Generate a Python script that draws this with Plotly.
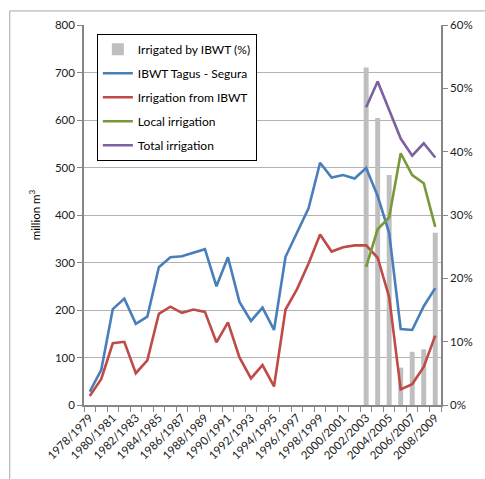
import plotly.graph_objects as go

# Hydrological years
years = [f"{y}/{y + 1}" for y in range(1978, 2009)]

# Water volumes, million m3
ibwt_tagus_segura = [28, 74, 202, 224, 171, 186, 290, 311, 313, 321, 328,
                     250, 311, 217, 177, 205, 158, 312, 364, 414, 510, 479,
                     484, 477, 499, 440, 362, 160, 158, 208, 246]
irrigation_from_ibwt = [19, 55, 130, 133, 67, 94, 192, 207, 194, 201, 196,
                        132, 174, 100, 56, 84, 39, 201, 244, 298, 359, 323,
                        332, 336, 336, 310, 227, 33, 44, 80, 146]
local_irrigation = [None] * 24 + [291, 370, 395, 530, 484, 467, 375]
total_irrigation = [None] * 24 + [627, 681, 621, 561, 525, 551, 521]

# Share of irrigation supplied by the transfer
irrigated_by_ibwt_pct = [None] * 24 + [0.533, 0.453, 0.363, 0.059, 0.084, 0.088, 0.272]

idx = list(range(len(years)))
even_idx = idx[::2]

FONT = "Lato, 'Open Sans', sans-serif"
AXIS_GREY = "#868686"
GRID_GREY = "#B3B3B3"

fig = go.Figure()

fig.add_trace(go.Bar(
    x=idx, y=irrigated_by_ibwt_pct, name="Irrigated by IBWT (%)",
    marker=dict(color="#BFBFBF", line=dict(width=0)),
    yaxis="y", legendgroup="a",
))

line_series = [
    ("IBWT Tagus - Segura", ibwt_tagus_segura, "#4A7EBB", "b"),
    ("Irrigation from IBWT", irrigation_from_ibwt, "#BE4B48", "c"),
    ("Local irrigation", local_irrigation, "#77993A", "d"),
    ("Total irrigation", total_irrigation, "#7D60A0", "e"),
]
for name, vals, color, grp in line_series:
    fig.add_trace(go.Scatter(
        x=idx, y=vals, name=name, mode="lines",
        line=dict(color=color, width=2.6),
        yaxis="y2", legendgroup=grp, connectgaps=False,
    ))

fig.update_layout(
    width=485, height=479,
    margin=dict(l=84, r=41, t=25, b=74),
    paper_bgcolor="white", plot_bgcolor="white",
    font=dict(family=FONT, size=12, color="#1a1a1a"),
    bargap=0.57,
    showlegend=True,
    legend=dict(
        x=0.036, y=0.977, xanchor="left", yanchor="top",
        bgcolor="white", bordercolor="#000000", borderwidth=1,
        font=dict(family=FONT, size=12, color="#000000"),
        traceorder="grouped", tracegroupgap=5,
    ),
    xaxis=dict(
        range=[-0.5, len(years) - 0.5],
        tickmode="array", tickvals=even_idx,
        ticktext=[years[i] for i in even_idx],
        tickangle=-45, ticks="", showgrid=False, zeroline=False,
        showline=True, linecolor=AXIS_GREY, linewidth=1.5,
        tickfont=dict(size=11.5, color="#1a1a1a"),
        minor=dict(tickmode="array",
                   tickvals=[k - 0.5 for k in range(len(years) + 1)],
                   ticks="outside", ticklen=5, tickcolor=AXIS_GREY,
                   showgrid=False),
    ),
    # percentage axis on the right (bars)
    yaxis=dict(
        side="right", range=[0, 0.6], dtick=0.1, tickformat=".0%",
        showgrid=False, zeroline=False,
        showline=True, linecolor=AXIS_GREY, linewidth=1.5,
        ticks="outside", ticklen=5, tickcolor=AXIS_GREY,
        tickfont=dict(size=11.5, color="#1a1a1a"),
    ),
    # volume axis on the left (lines)
    yaxis2=dict(
        overlaying="y", side="left", range=[0, 800], dtick=100,
        showgrid=True, gridcolor=GRID_GREY, gridwidth=1,
        zeroline=False,
        showline=True, linecolor=AXIS_GREY, linewidth=1.5,
        ticks="outside", ticklen=5, tickcolor=AXIS_GREY,
        tickfont=dict(size=11.5, color="#1a1a1a"),
        title=dict(text="million m<sup>3</sup>", standoff=12,
                   font=dict(size=11.5, color="#000000")),
    ),
    shapes=[
        # chart frame
        dict(type="rect", xref="paper", yref="paper",
             x0=-0.208, x1=1.2, y0=-0.3, y1=1.037,
             line=dict(color="#A6A6A6", width=1), layer="below"),
    ],
)

fig.write_html("out.html")
